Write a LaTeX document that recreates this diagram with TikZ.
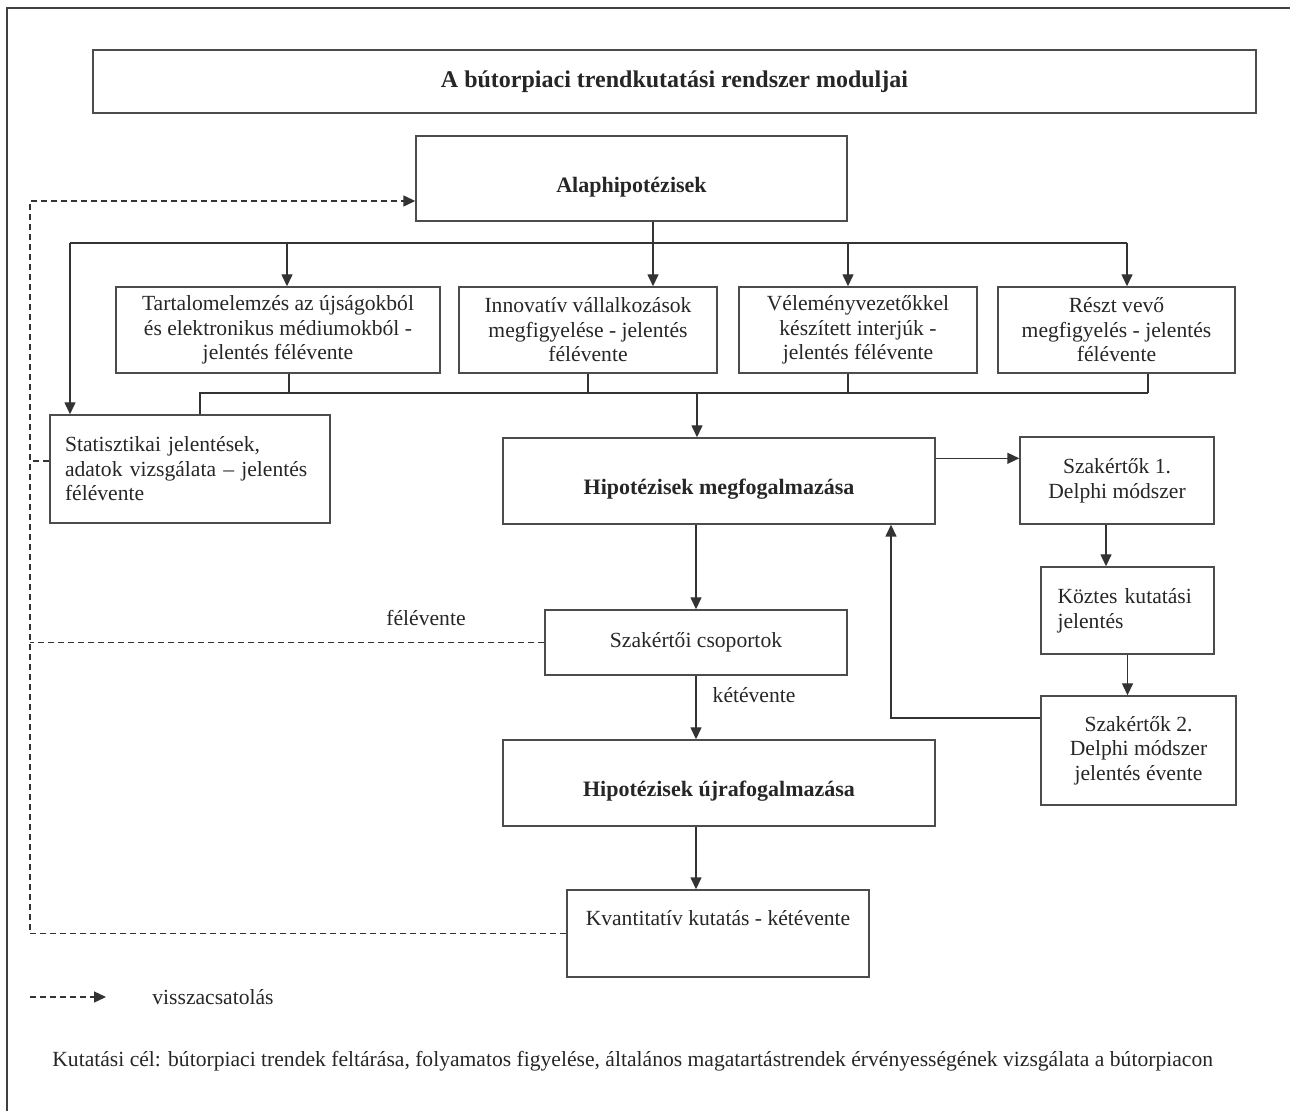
\documentclass[tikz,border=0pt]{standalone}
\usepackage{fontspec}
\setmainfont{Liberation Serif}
\usetikzlibrary{arrows.meta}

\begin{document}
\begin{tikzpicture}[
	x = 0.5pt, y = -0.5pt,
	font = \fontsize{10.8}{12.3}\selectfont,
	box/.style = {draw=black!70, line width=0.7pt, text=black!85, align=center, inner sep=2pt},
	hbox/.style = {box, font=\fontsize{11}{13}\selectfont\bfseries, text height=14pt, text depth=0pt},
	lbl/.style = {text=black!85, inner sep=0pt},
	conn/.style = {draw=black!80, line width=0.7pt},
	arr/.style = {conn, -{Triangle[length=6pt,width=5.5pt]}},
	fb/.style = {conn, dash pattern=on 3pt off 2pt},
	fbarr/.style = {fb, -{Triangle[length=6pt,width=5.5pt]}}
	]
	\useasboundingbox (0,0) rectangle (1290,1111);
	\draw[black!75, line width=0.6pt] (7,1111) -- (7,8) -- (1290,8);

	% boxes
	\node[box, font=\fontsize{12}{14}\selectfont\bfseries, minimum width=581.5pt, minimum height=31.5pt] (title) at (674.5,81.5) {A bútorpiaci trendkutatási rendszer moduljai};
	\node[hbox, minimum width=215.5pt, minimum height=42.5pt] (alap) at (631.5,178.5) {Alaphipotézisek};

	\node[box, minimum width=162pt, minimum height=43pt] (tart) at (278,330) {Tartalomelemzés az újságokból\\ és elektronikus médiumokból -\\ jelentés félévente};
	\node[box, minimum width=129pt, minimum height=43pt] (innov) at (588,330) {Innovatív vállalkozások\\ megfigyelése - jelentés\\ félévente};
	\node[box, minimum width=119pt, minimum height=43pt] (velem) at (858,330) {Véleményvezetőkkel\\ készített interjúk -\\ jelentés félévente};
	\node[box, minimum width=118.5pt, minimum height=43pt] (reszt) at (1116.5,330) {Részt vevő\\ megfigyelés - jelentés\\ félévente};

	\node[box, minimum width=140pt, minimum height=54pt, text width=125pt, align=left] (stat) at (190,469) {Statisztikai jelentések,\\ adatok vizsgálata -- jelentés\\ félévente};
	\node[hbox, minimum width=216pt, minimum height=43pt] (hipo1) at (719,481) {Hipotézisek megfogalmazása};
	\node[box, minimum width=97pt, minimum height=43.5pt] (szak1) at (1117,480.5) {Szakértők 1.\\ Delphi módszer};
	\node[box, minimum width=86.5pt, minimum height=43.5pt, text width=70pt, align=left] (koztes) at (1127.5,610.5) {Köztes kutatási\\ jelentés};
	\node[box, minimum width=97.5pt, minimum height=54.5pt] (szak2) at (1138.5,750.5) {Szakértők 2.\\ Delphi módszer\\ jelentés évente};
	\node[box, minimum width=151pt, minimum height=32.5pt] (csop) at (696,642.5) {Szakértői csoportok};
	\node[hbox, minimum width=216pt, minimum height=43pt] (hipo2) at (719,783) {Hipotézisek újrafogalmazása};
	\node[box, minimum width=151pt, minimum height=43.5pt] (kvant) at (718,933.5) {Kvantitatív kutatás - kétévente\\ \strut};

	% bus points
	\coordinate (busL) at (70,243);
	\coordinate (busR) at (1127,243);
	\coordinate (busA) at (653,243);
	\coordinate (busT) at (287,243);
	\coordinate (busV) at (848,243);
	\coordinate (lowL) at (200,393);
	\coordinate (lowR) at (1148,393);
	\coordinate (lowT) at (289,393);
	\coordinate (lowV) at (848,393);
	\coordinate (lowH) at (697,393);
	\coordinate (ret) at (891,718);
	\coordinate (fbT) at (30,201);
	\coordinate (legA) at (30,997);
	\coordinate (legB) at (106,997);
	\coordinate (hs) at ([yshift=-10.5pt]hipo1.north east);
	\coordinate (sk) at ([xshift=-5.5pt]szak1.south);
	\coordinate (sw) at ([yshift=4pt]stat.west);

	% arrows
	\draw[conn] (alap.south -| busA) -- (busA);
	\draw[conn] (busL) -- (busR);
	\draw[arr] (busL) -- (busL |- stat.north);
	\draw[arr] (busT) -- (busT |- tart.north);
	\draw[arr] (busA) -- (busA |- innov.north);
	\draw[arr] (busV) -- (busV |- velem.north);
	\draw[arr] (busR) -- (busR |- reszt.north);

	\draw[conn] (tart.south -| lowT) -- (lowT);
	\draw[conn] (innov.south) -- (innov.south |- lowL);
	\draw[conn] (velem.south -| lowV) -- (lowV);
	\draw[conn] (reszt.south -| lowR) -- (lowR);
	\draw[conn] (lowR) -- (lowL) -- (lowL |- stat.north);
	\draw[arr] (lowH) -- (lowH |- hipo1.north);

	\draw[arr] (hs) -- (hs -| szak1.west);
	\draw[arr] (sk) -- (sk |- koztes.north);
	\draw[arr] (koztes.south) -- (koztes.south |- szak2.north);
	\draw[arr] (szak2.west |- ret) -- (ret) -- (ret |- hipo1.south);

	\draw[arr] (hipo1.south -| csop.north) -- (csop.north);
	\draw[arr] (csop.south) -- (csop.south |- hipo2.north) node[lbl, pos=0.3, right=8pt] {kétévente};
	\draw[arr] (hipo2.south -| csop.south) -- (csop.south |- kvant.north);

	% feedback
	\draw[fbarr] (kvant.west) -- (kvant.west -| fbT) -- (fbT) -- (fbT -| alap.west);
	\draw[fb] (csop.west) -- (csop.west -| fbT) node[lbl, pos=0.23, above=8pt] {félévente};
	\draw[fb] (sw) -- (sw -| fbT);

	% legend
	\draw[fbarr] (legA) -- (legB);
	\node[lbl, anchor=west] (legtxt) at (152,997) {visszacsatolás};
	\node[lbl, anchor=west] (goal) at (52,1061) {Kutatási cél: bútorpiaci trendek feltárása, folyamatos figyelése, általános magatartástrendek érvényességének vizsgálata a bútorpiacon};
\end{tikzpicture}
\end{document}
